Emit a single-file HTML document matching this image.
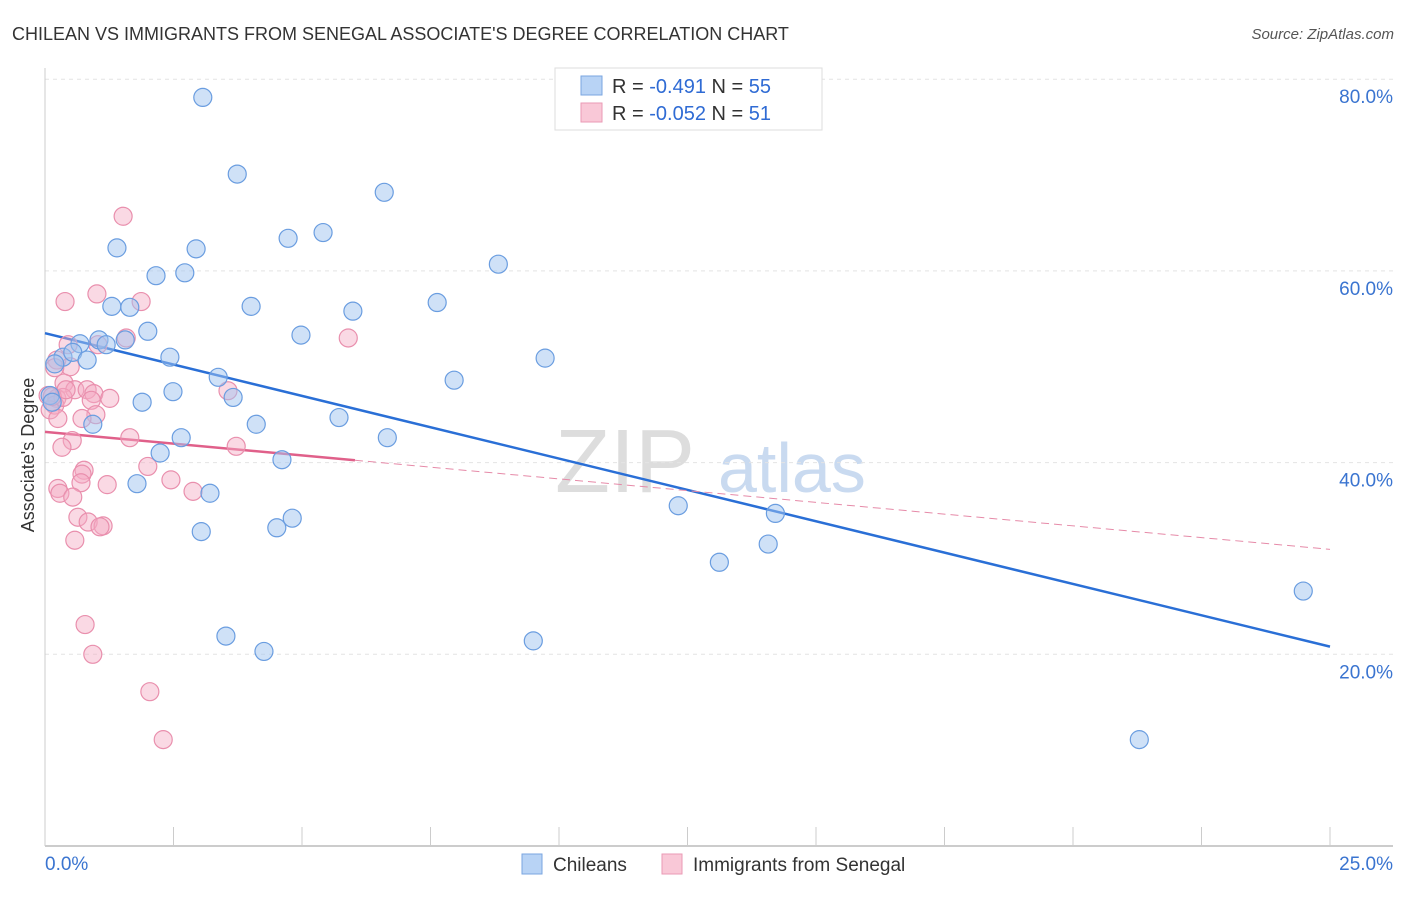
<!DOCTYPE html>
<html><head><meta charset="utf-8"><style>
body{margin:0;background:#fff;font-family:"Liberation Sans",sans-serif}
svg text{font-family:"Liberation Sans",sans-serif}
</style></head><body>
<svg width="1406" height="892" id="chart">
<text x="12" y="40" font-size="18" fill="#333">CHILEAN VS IMMIGRANTS FROM SENEGAL ASSOCIATE'S DEGREE CORRELATION CHART</text>
<text x="1394" y="39" font-size="15" fill="#555" text-anchor="end" font-style="italic">Source: ZipAtlas.com</text>
<text x="34" y="455" font-size="18" fill="#333" text-anchor="middle" transform="rotate(-90 34 455)">Associate's Degree</text>
<g><text x="555" y="492" font-size="90" fill="#ddd" font-family="Liberation Serif">ZIP</text><text x="718" y="492" font-size="70" fill="#c9daf0">atlas</text></g>
<g id="grid"></g><g id="axes"></g><g id="lines"></g><g id="pts"></g>
<g>
<rect x="555" y="68" width="267" height="62" fill="#fff" stroke="#ddd"/>
<rect x="581" y="76" width="21" height="19" fill="#b8d3f5" stroke="#7aa6e0"/>
<rect x="581" y="103" width="21" height="19" fill="#f9c8d7" stroke="#ea9ab4"/>
<text x="612" y="93" font-size="20" fill="#333">R = <tspan fill="#2f6bd4">-0.491</tspan>   N = <tspan fill="#2f6bd4">55</tspan></text>
<text x="612" y="120" font-size="20" fill="#333">R = <tspan fill="#2f6bd4">-0.052</tspan>   N = <tspan fill="#2f6bd4"> 51</tspan></text>
</g>
<g>
<rect x="522" y="854" width="20" height="20" fill="#b8d3f5" stroke="#7aa6e0"/>
<text x="553" y="871" font-size="19" fill="#333">Chileans</text>
<rect x="662" y="854" width="20" height="20" fill="#f9c8d7" stroke="#ea9ab4"/>
<text x="693" y="871" font-size="19" fill="#333">Immigrants from Senegal</text>
</g>
</svg>
<script>
const xTickLabels=["0.0%","25.0%"];
const yTicks=[20,40,60,80];
const blueX=[3.07,3.74,6.60,4.73,5.41,1.40,2.94,2.16,2.72,8.82,4.01,1.30,1.65,5.99,7.63,2.00,4.98,1.05,1.56,1.19,0.68,2.43,9.73,0.35,0.54,0.82,0.19,3.37,7.96,2.49,3.66,1.89,0.10,0.14,4.11,5.72,0.93,2.65,6.66,2.24,4.61,1.79,3.21,4.81,4.51,3.04,12.32,14.21,14.07,13.12,3.52,4.26,9.50,24.48,21.29];
const blueY=[78.1,70.1,68.2,63.4,64.0,62.4,62.3,59.5,59.8,60.7,56.3,56.3,56.2,55.8,56.7,53.7,53.3,52.8,52.8,52.3,52.4,51.0,50.9,51.0,51.5,50.7,50.3,48.9,48.6,47.4,46.8,46.3,47.0,46.3,44.0,44.7,44.0,42.6,42.6,41.0,40.3,37.8,36.8,34.2,33.2,32.8,35.5,34.7,31.5,29.6,21.9,20.3,21.4,26.6,11.1];
const pinkX=[1.52,1.01,0.39,1.87,5.90,1.58,0.45,1.03,0.23,0.49,0.37,0.58,0.82,0.95,1.26,0.90,3.56,0.06,0.23,0.19,0.10,0.99,0.25,1.65,0.53,0.33,3.72,2.00,0.76,0.72,0.70,1.21,2.45,2.88,0.25,0.29,0.54,0.64,0.84,1.13,1.07,0.58,0.78,0.93,2.04,2.30,0.35,0.14,0.41,0.19,0.72];
const pinkY=[65.7,57.6,56.8,56.8,53.0,53.0,52.3,52.3,50.7,50.0,48.3,47.6,47.6,47.2,46.7,46.5,47.5,47.0,46.7,46.0,45.5,45.0,44.6,42.6,42.3,41.6,41.7,39.6,39.2,38.8,37.9,37.7,38.2,37.0,37.3,36.8,36.4,34.3,33.8,33.4,33.3,31.9,23.1,20.0,16.1,11.1,46.8,46.9,47.6,49.9,44.6];
const blueFit=[53.5,-1.308];
const pinkFit=[43.2,-0.49];
const pinkSolidEnd=6.03;
const X0=45,X1=1330,Y0=846,YS=191.7/20;
const sx=v=>X0+(X1-X0)*v/25, sy=v=>Y0-v*YS;
const NS="http://www.w3.org/2000/svg";
function mk(parent,tag,attrs){const e=document.createElementNS(NS,tag);for(const k in attrs)e.setAttribute(k,attrs[k]);document.getElementById(parent).appendChild(e);return e;}
yTicks.forEach(t=>{
 const l=mk('grid','line',{x1:45,x2:1393,y1:sy(t),y2:sy(t),stroke:'#e4e4e4','stroke-dasharray':'4 4'});
 
 
 const tx=mk('grid','text',{x:1393,y:sy(t)+24,'font-size':19,fill:'#3a74d0','text-anchor':'end'});
 tx.textContent=t.toFixed(1)+'%';
 
 
});
const ax=mk('axes','line',{x1:45,x2:1393,y1:846,y2:846,stroke:'#bbb','stroke-width':1.5});


const ay=mk('axes','line',{x1:45,x2:45,y1:68,y2:846,stroke:'#ccc'});


for(let i=0;i<=10;i++){const t=mk('axes','line',{x1:sx(i*2.5),x2:sx(i*2.5),y1:827,y2:846,stroke:'#ccc'});
 
 }
const l0=mk('axes','text',{x:45,y:870,'font-size':19,fill:'#3a74d0'});l0.textContent=xTickLabels[0];


const l1=mk('axes','text',{x:1393,y:870,'font-size':19,fill:'#3a74d0','text-anchor':'end'});l1.textContent=xTickLabels[1];


function dot(x,y,f,s,name){const c=mk('pts','circle',{cx:sx(x),cy:sy(y),r:9,fill:f,stroke:s,'stroke-width':1.2});
 
 }
pinkX.forEach((x,i)=>dot(x,pinkY[i],'rgba(245,170,196,0.45)','#e98fad','senegal-point'));
blueX.forEach((x,i)=>dot(x,blueY[i],'rgba(160,196,240,0.5)','#6a9de0','chilean-point'));
const bl=mk('lines','line',{x1:sx(0),y1:sy(blueFit[0]),x2:sx(25),y2:sy(blueFit[0]+25*blueFit[1]),stroke:'#2a6fd6','stroke-width':2.5});


const ps=mk('lines','line',{x1:sx(0),y1:sy(pinkFit[0]),x2:sx(pinkSolidEnd),y2:sy(pinkFit[0]+pinkSolidEnd*pinkFit[1]),stroke:'#e0608a','stroke-width':2.5});


const pd=mk('lines','line',{x1:sx(pinkSolidEnd),y1:sy(pinkFit[0]+pinkSolidEnd*pinkFit[1]),x2:sx(25),y2:sy(pinkFit[0]+25*pinkFit[1]),stroke:'#e68aa8','stroke-width':1,'stroke-dasharray':'8 5'});


</script>
</body></html>
